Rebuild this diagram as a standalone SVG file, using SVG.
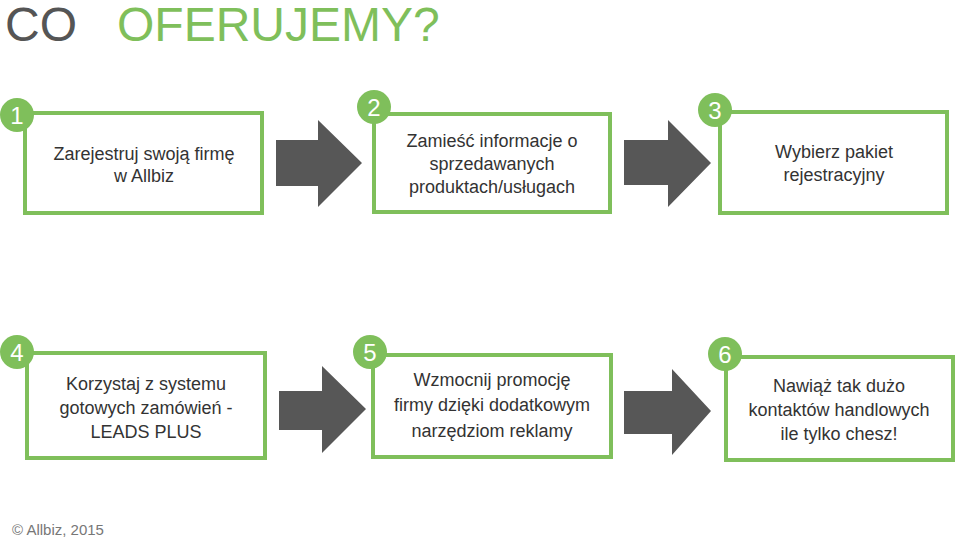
<svg xmlns="http://www.w3.org/2000/svg" width="960" height="538" viewBox="0 0 960 538">
<style>
.box{fill:#fff;stroke:#7fbf5b;stroke-width:4}
.num{fill:#7fbf5b}
.nt{font-family:"Liberation Sans",Arial,sans-serif;font-size:24px;fill:#fff;text-anchor:middle}
.t{font-family:"Liberation Sans",Arial,sans-serif;font-size:18px;fill:#333;text-anchor:middle}
.arr{fill:#575757}
</style>
<rect width="960" height="538" fill="#fff"/>
<text x="5" y="41" font-family="Liberation Sans,Arial,sans-serif" font-size="48" fill="#555">CO</text>
<text x="117" y="41" font-family="Liberation Sans,Arial,sans-serif" font-size="48" fill="#7fbf5b">OFERUJEMY?</text>
<g id="connectors">
<polygon class="arr" points="276,140 318,140 318,120 362,163 318,207 318,186 276,186"/>
<polygon class="arr" points="624,140 668,140 668,120 711,163 668,207 668,185 624,185"/>
<polygon class="arr" points="279,391 322,391 322,366 366,409 322,453 322,430 279,430"/>
<polygon class="arr" points="624,391 672,391 672,369 711,411 672,455 672,434 624,434"/>
</g>
<g id="n1"><rect class="box" x="25" y="113" width="237" height="100"/><circle class="num" cx="17" cy="115" r="17"/><text class="nt" x="17" y="124">1</text><text class="t" x="144" y="160">Zarejestruj swoją firmę</text><text class="t" x="144" y="182">w Allbiz</text></g>
<g id="n2"><rect class="box" x="374" y="114" width="236" height="98"/><circle class="num" cx="374" cy="107" r="17"/><text class="nt" x="374" y="116">2</text><text class="t" x="492" y="147">Zamieść informacje o</text><text class="t" x="492" y="170">sprzedawanych</text><text class="t" x="492" y="193">produktach/usługach</text></g>
<g id="n3"><rect class="box" x="720" y="112" width="227" height="101"/><circle class="num" cx="715" cy="110" r="17"/><text class="nt" x="715" y="119">3</text><text class="t" x="834" y="158">Wybierz pakiet</text><text class="t" x="834" y="181">rejestracyjny</text></g>
<g id="n4"><rect class="box" x="27" y="353" width="238" height="105"/><circle class="num" cx="17" cy="352" r="17"/><text class="nt" x="17" y="361">4</text><text class="t" x="146" y="390">Korzystaj z systemu</text><text class="t" x="146" y="414">gotowych zamówień -</text><text class="t" x="146" y="438">LEADS PLUS</text></g>
<g id="n5"><rect class="box" x="373" y="355" width="238" height="102"/><circle class="num" cx="370" cy="352" r="17"/><text class="nt" x="370" y="361">5</text><text class="t" x="492" y="386">Wzmocnij promocję</text><text class="t" x="492" y="411">firmy dzięki dodatkowym</text><text class="t" x="492" y="437">narzędziom reklamy</text></g>
<g id="n6"><rect class="box" x="726" y="357" width="227" height="103"/><circle class="num" cx="725" cy="354" r="17"/><text class="nt" x="725" y="363">6</text><text class="t" x="839" y="392">Nawiąż tak dużo</text><text class="t" x="839" y="416">kontaktów handlowych</text><text class="t" x="839" y="440">ile tylko chesz!</text></g>
<text x="12" y="535" font-family="Liberation Sans,Arial,sans-serif" font-size="15" fill="#777">© Allbiz, 2015</text>
</svg>
